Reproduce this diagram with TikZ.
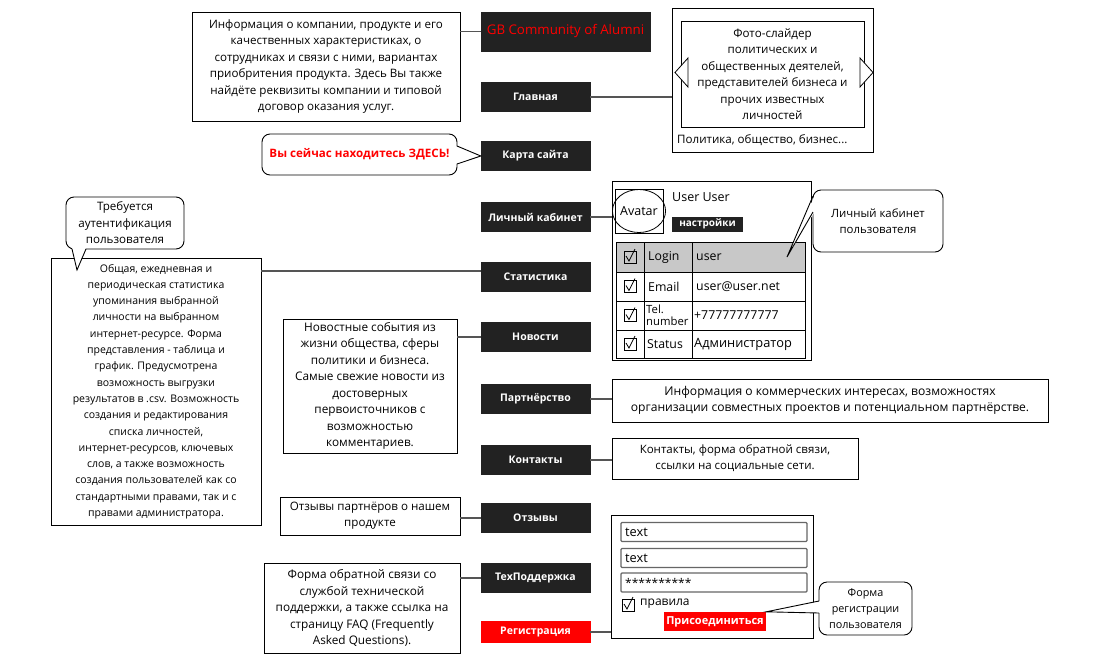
\documentclass[tikz,border=0pt]{standalone}
\usepackage{fontspec}
\setmainfont{Open Sans}
\usetikzlibrary{shapes.geometric,calc}
\definecolor{btncol}{HTML}{222222}
\definecolor{linecol}{HTML}{555555}
\definecolor{rowgray}{HTML}{C8C8C8}
\definecolor{fieldgray}{HTML}{666666}
\definecolor{hotred}{HTML}{FF0000}
\newcommand{\fsz}[2]{\fontsize{#1}{#2}\selectfont}
\begin{document}
\begin{tikzpicture}[x=1pt,y=-1pt,
  desc/.style={draw=black, line width=0.9pt, fill=white, align=center, font=\fsz{11.6}{16.5}, inner sep=0pt},
  callout/.style={desc, rounded corners=8pt},
  btn/.style={fill=btncol, draw=btncol, text=white, font=\fsz{10.5}{12}\bfseries, minimum width=109pt, minimum height=29pt, inner sep=0pt},
  conn/.style={draw=linecol, line width=1.3pt},
  lbl/.style={font=\fsz{12}{13}, inner sep=0pt, anchor=west},
  cell/.style={font=\fsz{12.3}{13}, inner sep=0pt, anchor=west},
  chkbox/.pic={\draw[line width=0.8pt] (-6,-6) rectangle (6,6); \draw[line width=0.8pt] (-4,-1) -- (-1,4) -- (5,-8);}
]
\useasboundingbox (0,0) rectangle (1106,662);
\fill[white] (0,0) rectangle (1106,662);

% ---- buttons ----
\node[btn, minimum width=169pt, minimum height=39pt, text=hotred, font=\fsz{13.3}{15}] (bgb) at (565.5,31.5) {GB Community of Alumni};
\node[btn] (bmain) at (535.5,97) {Главная};
\node[btn] (bkarta) at (535.5,156) {Карта сайта};
\node[btn] (blk) at (535.5,217) {Личный кабинет};
\node[btn] (bstat) at (535.5,277) {Статистика};
\node[btn] (bnews) at (535.5,337) {Новости};
\node[btn] (bpart) at (535.5,399) {Партнёрство};
\node[btn] (bcont) at (535.5,460) {Контакты};
\node[btn] (botz) at (535.5,518) {Отзывы};
\node[btn] (btech) at (535.5,578) {ТехПоддержка};
\node[btn, fill=hotred, draw=hotred, minimum height=21pt] (breg) at (535.5,632) {Регистрация};

% ---- description boxes ----
\node[desc, minimum width=268pt, minimum height=109pt] (dinfo) at (326,66.5)
  {Информация о компании, продукте и его\\качественных характеристиках, о\\сотрудниках и связи с ними, вариантах\\приобритения продукта. Здесь Вы также\\найдёте реквизиты компании и типовой\\договор оказания услуг.};
\node[callout, minimum width=195pt, minimum height=41pt, text=hotred, font=\fsz{11.6}{13}\bfseries] (chere) at (359.5,154.5) {Вы сейчас находитесь ЗДЕСЬ!};

% slider
\node[desc, minimum width=201pt, minimum height=144pt] (slider) at (772.5,80) {};
\node[desc, minimum width=183pt, minimum height=106pt] (slin) at (772.5,74)
  {Фото-слайдер\\политических и\\общественных деятелей,\\представителей бизнеса и\\прочих известных\\личностей};
\draw[fill=white, line width=0.8pt] (688,58) -- (675,72.5) -- (688,87) -- cycle;
\draw[fill=white, line width=0.8pt] (860,58) -- (873,72.5) -- (860,87) -- cycle;
\node[lbl, font=\fsz{11.6}{13}] (sltags) at (677,140) {Политика, общество, бизнес...};

% user panel
\node[desc, minimum width=199pt, minimum height=179pt] (upanel) at (711.5,270.5) {};
\node[draw, line width=0.8pt, minimum width=48pt, minimum height=44pt, inner sep=0pt] (avbox) at (639,211) {};
\node[draw, ellipse, line width=0.8pt, minimum width=47pt, minimum height=43pt, inner sep=0pt, font=\fsz{12.5}{13}] (avatar) at (639,211) {Avatar};
\node[lbl, font=\fsz{12.5}{13}] (uname) at (672,197) {User User};
\node[fill=btncol, text=white, font=\fsz{10}{12}\bfseries, minimum width=71pt, minimum height=15pt, inner sep=0pt] (usett) at (707.5,224) {настройки};
\fill[rowgray] (616,242) rectangle (805,272);
\draw[line width=0.8pt] (616,242) rectangle (805,358);
\draw[line width=0.8pt] (616,272) -- (805,272) (616,301) -- (805,301) (616,330) -- (805,330);
\draw[line width=0.8pt] (644,242) -- (644,358) (692,242) -- (692,358);
\pic at (630,257) {chkbox};
\pic at (630,286.5) {chkbox};
\pic at (630,315.5) {chkbox};
\pic at (630,344) {chkbox};
\node[cell] (c1a) at (648,257) {Login};
\node[cell] (c1b) at (696,257) {user};
\node[cell] (c2a) at (648,286.5) {Email};
\node[cell] (c2b) at (696,286.5) {user@user.net};
\node[cell, align=left, font=\fsz{11.3}{11.5}] (c3a) at (646,315.5) {Tel.\\number};
\node[cell] (c3b) at (694,315.5) {+77777777777};
\node[cell] (c4a) at (647,344) {Status};
\node[cell, font=\fsz{12.8}{13}] (c4b) at (694,344) {Администратор};

% LK callout
\node[callout, minimum width=130pt, minimum height=62pt, font=\fsz{11.4}{16.5}] (clk) at (878,221) {Личный кабинет\\пользователя};
\coordinate (clkt) at (787,257);
\fill[white] (814.5,196) -- (clkt) -- (814.5,212) -- cycle;
\draw[line width=0.9pt] (813,196) -- (clkt) -- (813,212);

% big stats box
\node[desc, minimum width=210pt, minimum height=267pt, font=\fsz{10.5}{16.3}] (dstat) at (156,391.5)
  {Общая, ежедневная и\\периодическая статистика\\упоминания выбранной\\личности на выбранном\\интернет-ресурсе. Форма\\представления - таблица и\\график. Предусмотрена\\возможность выгрузки\\результатов в .csv. Возможность\\создания и редактирования\\списка личностей,\\интернет-ресурсов, ключевых\\слов, а также возможность\\создания пользователей как со\\стандартными правами, так и с\\правами администратора.};
% auth callout
\node[callout, minimum width=118pt, minimum height=52pt, font=\fsz{11.6}{16.5}] (cauth) at (125,223) {Требуется\\аутентификация\\пользователя};
\coordinate (caut) at (77,270);
\fill[white] (72,247.5) -- (caut) -- (86,247.5) -- cycle;
\draw[line width=0.9pt] (72,249) -- (caut) -- (86,249);

% news
\node[desc, minimum width=174pt, minimum height=134pt, font=\fsz{11.8}{16.5}] (dnews) at (370,386)
  {Новостные события из\\жизни общества, сферы\\политики и бизнеса.\\Самые свежие новости из\\достоверных\\первоисточников с\\возможностью\\комментариев.};
\node[desc, minimum width=436pt, minimum height=43pt, font=\fsz{12.1}{16.5}] (dpart) at (830,400.5)
  {Информация о коммерческих интересах, возможностях\\организации совместных проектов и потенциальном партнёрстве.};
\node[desc, minimum width=246pt, minimum height=41pt, font=\fsz{11.5}{16}] (dcont) at (735,458.5)
  {Контакты, форма обратной связи,\\ссылки на социальные сети.};
\node[desc, minimum width=180pt, minimum height=38pt, font=\fsz{11.6}{16}] (dotz) at (370,516)
  {Отзывы партнёров о нашем\\продукте};
\node[desc, minimum width=196pt, minimum height=90pt, font=\fsz{11.8}{16.5}] (dtech) at (362,608)
  {Форма обратной связи со\\службой технической\\поддержки, а также ссылка на\\страницу FAQ (Frequently\\Asked Questions).};

% registration panel
\node[desc, minimum width=202pt, minimum height=123pt] (regp) at (712,576.5) {};
\foreach \yy/\tt/\fs [count=\i] in {532/text/12.8, 558/text/12.8, 582.5/**********/12}{
  \node[draw=fieldgray, line width=1.3pt, rounded corners=1pt, minimum width=186pt, minimum height=19pt, inner sep=0pt] (fld\i) at (714,\yy) {};
  \node[lbl, font=\fsz{\fs}{13}] (fldt\i) at (625,\yy) {\tt};
}
\pic at (628,605) {chkbox};
\node[lbl] (rules) at (640,604) {правила};
\node[fill=hotred, text=white, font=\fsz{11}{12}\bfseries, minimum width=102pt, minimum height=19pt, inner sep=0pt] (bjoin) at (715,621.5) {Присоединиться};
\node[callout, minimum width=93pt, minimum height=53pt, font=\fsz{10.8}{16}] (creg) at (865.5,608.5) {Форма\\регистрации\\пользователя};
\fill[white] (820.5,601) -- (bjoin.north east) -- (820.5,613) -- cycle;
\draw[line width=0.9pt] (819,601) -- (bjoin.north east) -- (819,613);

% here callout tail
\fill[white] (455.5,146) -- (bkarta.west) -- (455.5,164) -- cycle;
\draw[line width=0.9pt] (457,146) -- (bkarta.west) -- (457,164);

% ---- connectors ----
\draw[conn] (bgb.west) -- (bgb.west -| dinfo.east);
\draw[conn] (bmain.east) -- (bmain.east -| slider.west);
\draw[conn] (blk.east) -- (blk.east -| upanel.west);
\draw[conn] ([yshift=6pt]bstat.west) -- ([yshift=6pt]bstat.west -| dstat.east);
\draw[conn] (bnews.west) -- (bnews.west -| dnews.east);
\draw[conn] (bpart.east) -- (bpart.east -| dpart.west);
\draw[conn] (bcont.east) -- (bcont.east -| dcont.west);
\draw[conn] (botz.west) -- (botz.west -| dotz.east);
\draw[conn] (btech.west) -- (btech.west -| dtech.east);
\draw[conn] (breg.east) -- (breg.east -| regp.west);
\end{tikzpicture}
\end{document}
